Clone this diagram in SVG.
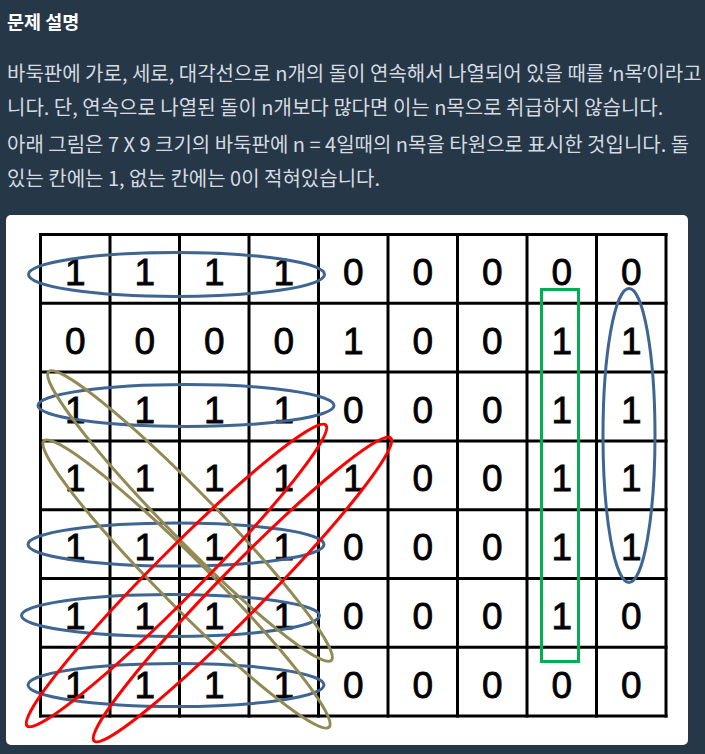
<svg xmlns="http://www.w3.org/2000/svg" width="705" height="754" viewBox="0 0 705 754">
<style>
.title{font-family:"Noto Sans CJK KR","Noto Sans",sans-serif;font-size:18.5px;font-weight:bold;fill:#ffffff}
.body{font-family:"Noto Sans CJK KR","Noto Sans",sans-serif;font-size:20px;fill:#d5dbe1}
.q{font-family:"Noto Sans",sans-serif}
.grid line{stroke:#000;stroke-width:3}
.num text{font-family:"Liberation Sans",Arial,sans-serif;font-size:37px;fill:#000;stroke:#000;stroke-width:0.8;text-anchor:middle}
.blue{fill:none;stroke:#3f6592;stroke-width:3}
.olive{fill:none;stroke:#928a55;stroke-width:3}
.red{fill:none;stroke:#ff0000;stroke-width:3}
.green{fill:none;stroke:#00b050;stroke-width:3}
</style>
<rect x="0" y="0" width="705" height="754" fill="#263747"/>
<g id="header">
<text class="title" x="7" y="29">문제 설명</text>
<text class="body" x="7" y="81">바둑판에 가로, 세로, 대각선으로 n개의 돌이 연속해서 나열되어 있을 때를 <tspan class="q">‘</tspan>n목<tspan class="q">’</tspan>이라고</text>
<text class="body" x="7" y="115">니다. 단, 연속으로 나열된 돌이 n개보다 많다면 이는 n목으로 취급하지 않습니다.</text>
<text class="body" x="7" y="152">아래 그림은 7 X 9 크기의 바둑판에 n = 4일때의 n목을 타원으로 표시한 것입니다. 돌</text>
<text class="body" x="7" y="186">있는 칸에는 1, 없는 칸에는 0이 적혀있습니다.</text>
</g>
<g id="card">
<rect x="6" y="215" width="682" height="530" rx="5" fill="#ffffff"/>
</g>
<g id="grid" class="grid">
<line x1="40.5" y1="233" x2="40.5" y2="717.5"/>
<line x1="110" y1="233" x2="110" y2="717.5"/>
<line x1="179.5" y1="233" x2="179.5" y2="717.5"/>
<line x1="249" y1="233" x2="249" y2="717.5"/>
<line x1="318.5" y1="233" x2="318.5" y2="717.5"/>
<line x1="388" y1="233" x2="388" y2="717.5"/>
<line x1="457.5" y1="233" x2="457.5" y2="717.5"/>
<line x1="527" y1="233" x2="527" y2="717.5"/>
<line x1="596.5" y1="233" x2="596.5" y2="717.5"/>
<line x1="666" y1="233" x2="666" y2="717.5"/>
<line x1="39" y1="234.5" x2="667.5" y2="234.5"/>
<line x1="39" y1="303.3" x2="667.5" y2="303.3"/>
<line x1="39" y1="372.1" x2="667.5" y2="372.1"/>
<line x1="39" y1="440.9" x2="667.5" y2="440.9"/>
<line x1="39" y1="509.7" x2="667.5" y2="509.7"/>
<line x1="39" y1="578.5" x2="667.5" y2="578.5"/>
<line x1="39" y1="647.3" x2="667.5" y2="647.3"/>
<line x1="39" y1="716" x2="667.5" y2="716"/>
</g>
<g id="numbers" class="num">
<g id="row0"><text x="75.25" y="285">1</text><text x="144.75" y="285">1</text><text x="214.25" y="285">1</text><text x="283.75" y="285">1</text><text x="353.25" y="285">0</text><text x="422.75" y="285">0</text><text x="492.25" y="285">0</text><text x="561.75" y="285">0</text><text x="631.25" y="285">0</text></g>
<g id="row1"><text x="75.25" y="354">0</text><text x="144.75" y="354">0</text><text x="214.25" y="354">0</text><text x="283.75" y="354">0</text><text x="353.25" y="354">1</text><text x="422.75" y="354">0</text><text x="492.25" y="354">0</text><text x="561.75" y="354">1</text><text x="631.25" y="354">1</text></g>
<g id="row2"><text x="75.25" y="422.5">1</text><text x="144.75" y="422.5">1</text><text x="214.25" y="422.5">1</text><text x="283.75" y="422.5">1</text><text x="353.25" y="422.5">0</text><text x="422.75" y="422.5">0</text><text x="492.25" y="422.5">0</text><text x="561.75" y="422.5">1</text><text x="631.25" y="422.5">1</text></g>
<g id="row3"><text x="75.25" y="491">1</text><text x="144.75" y="491">1</text><text x="214.25" y="491">1</text><text x="283.75" y="491">1</text><text x="353.25" y="491">1</text><text x="422.75" y="491">0</text><text x="492.25" y="491">0</text><text x="561.75" y="491">1</text><text x="631.25" y="491">1</text></g>
<g id="row4"><text x="75.25" y="560">1</text><text x="144.75" y="560">1</text><text x="214.25" y="560">1</text><text x="283.75" y="560">1</text><text x="353.25" y="560">0</text><text x="422.75" y="560">0</text><text x="492.25" y="560">0</text><text x="561.75" y="560">1</text><text x="631.25" y="560">1</text></g>
<g id="row5"><text x="75.25" y="629">1</text><text x="144.75" y="629">1</text><text x="214.25" y="629">1</text><text x="283.75" y="629">1</text><text x="353.25" y="629">0</text><text x="422.75" y="629">0</text><text x="492.25" y="629">0</text><text x="561.75" y="629">1</text><text x="631.25" y="629">0</text></g>
<g id="row6"><text x="75.25" y="698">1</text><text x="144.75" y="698">1</text><text x="214.25" y="698">1</text><text x="283.75" y="698">1</text><text x="353.25" y="698">0</text><text x="422.75" y="698">0</text><text x="492.25" y="698">0</text><text x="561.75" y="698">0</text><text x="631.25" y="698">0</text></g>
</g>
<g id="marks">
<ellipse id="h-row0" class="blue" cx="176.5" cy="274.5" rx="148" ry="22"/>
<ellipse id="h-row2" class="blue" cx="186" cy="405.5" rx="148" ry="21"/>
<ellipse id="h-row4" class="blue" cx="176" cy="544.5" rx="148" ry="21.5"/>
<ellipse id="h-row5" class="blue" cx="170.5" cy="615.5" rx="149" ry="21"/>
<ellipse id="h-row6" class="blue" cx="176" cy="685" rx="148" ry="21.5"/>
<ellipse id="v-col8" class="blue" cx="629" cy="435.5" rx="26" ry="147"/>
<rect id="v-col7" class="green" x="541.5" y="289.5" width="37" height="372"/>
<ellipse id="d-olive1" class="olive" cx="190" cy="516" rx="202" ry="24" transform="rotate(45.6 190 516)"/>
<ellipse id="d-olive2" class="olive" cx="186.5" cy="584" rx="202" ry="24" transform="rotate(45.1 186.5 584)"/>
<ellipse id="d-red1" class="red" cx="176.5" cy="575.5" rx="212" ry="23" transform="rotate(-45.2 176.5 575.5)"/>
<ellipse id="d-red2" class="red" cx="242.5" cy="589.5" rx="212" ry="23" transform="rotate(-45.6 242.5 589.5)"/>
</g>
</svg>
